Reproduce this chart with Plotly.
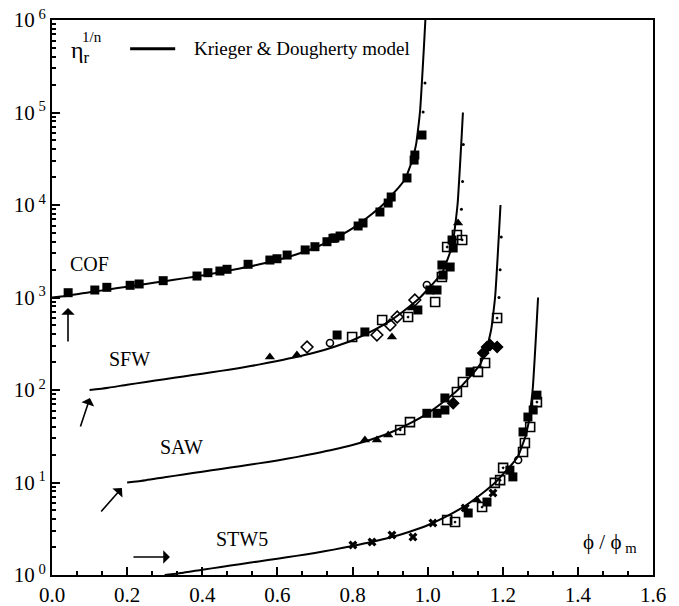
import plotly.graph_objects as go

# Krieger & Dougherty model, reduced form: eta_r^(1/n) against phi/phi_m
MODEL_U = [0.00, 0.05, 0.10, 0.15, 0.20, 0.25, 0.30, 0.35, 0.40, 0.45, 0.50, 0.55,
           0.60, 0.65, 0.70, 0.75, 0.80, 0.85, 0.88, 0.90, 0.92, 0.94, 0.95, 0.96,
           0.966, 0.97, 0.975, 0.98, 0.985, 0.99, 0.994]
MODEL_F = [1.00, 1.06, 1.14, 1.22, 1.31, 1.40, 1.50, 1.61, 1.73, 1.88, 2.06, 2.27,
           2.54, 2.92, 3.45, 4.30, 5.6, 7.9, 10.0, 12.2, 15.0, 19.0, 24.0, 31.0,
           39.0, 47.0, 68.0, 105.0, 220.0, 500.0, 1000.0]

# suspensions, each curve shifted in phi/phi_m and in decades for clarity
SUSPENSIONS = ["COF", "SFW", "SAW", "STW5"]
X_SHIFT = [0.0, 0.1, 0.2, 0.3]
Y_FACTOR = [1000.0, 100.0, 10.0, 1.0]

# measured points (phi/phi_m, eta_r^(1/n)) with data-set id
COF_X = [0.043, 0.114, 0.146, 0.208, 0.232, 0.296, 0.386, 0.415, 0.447, 0.466,
         0.522, 0.580, 0.599, 0.626, 0.674, 0.700, 0.732, 0.748, 0.753, 0.767,
         0.815, 0.828, 0.873, 0.895, 0.903, 0.945, 0.964, 0.966, 0.985, 0.988, 0.993]
COF_Y = [1127, 1205, 1288, 1355, 1400, 1520, 1706, 1854, 1932, 2018,
         2286, 2541, 2624, 2877, 3266, 3540, 4009, 4365, 4400, 4620,
         5930, 6390, 8400, 10500, 12200, 19600, 30600, 34700, 57100, 101000, 209000]
COF_SET = ["a"] * 29 + ["g", "g"]

SFW_X = [0.580, 0.652, 0.679, 0.740, 0.759, 0.799, 0.833, 0.865, 0.879, 0.905,
         0.900, 0.919, 0.948, 0.958, 0.966, 0.974, 0.998, 1.006, 1.020, 1.025,
         1.038, 1.041, 1.038, 1.060, 1.052, 1.068, 1.065, 1.078, 1.092, 1.081,
         1.090, 1.093, 1.095]
SFW_Y = [227, 239, 292, 322, 393, 374, 424, 393, 571, 374,
         505, 615, 615, 770, 940, 733, 1365, 1205, 894, 1205,
         1667, 1750, 2245, 2136, 3515, 3430, 4185, 4740, 4185, 6390,
         9000, 18000, 45000]
SFW_SET = ["d", "d", "c", "e", "a", "b", "a", "c", "b", "d",
           "c", "c", "f", "d", "c", "a", "e", "a", "b", "a",
           "b", "a", "a", "a", "f", "a", "a", "b", "f", "d",
           "g", "g", "g"]

SAW_X = [0.833, 0.865, 0.895, 0.927, 0.953, 0.998, 1.025, 1.046, 1.068, 1.046,
         1.078, 1.094, 1.113, 1.134, 1.153, 1.148, 1.158, 1.166, 1.185, 1.185,
         1.190, 1.193, 1.196]
SAW_Y = [28.8, 28.8, 32.6, 37, 45, 56, 56, 60.8, 72, 82,
         95, 122, 157, 157, 196, 251, 292, 306, 292, 600,
         1000, 2000, 4500]
SAW_SET = ["d", "d", "d", "f", "b", "a", "a", "a", "h", "a",
           "b", "b", "a", "b", "b", "h", "h", "h", "h", "f",
           "g", "g", "g"]

STW5_X = [0.801, 0.852, 0.905, 0.961, 1.014, 1.052, 1.073, 1.100, 1.108, 1.131,
          1.145, 1.158, 1.174, 1.179, 1.193, 1.201, 1.219, 1.227, 1.241, 1.254,
          1.259, 1.254, 1.273, 1.267, 1.281, 1.291, 1.291]
STW5_Y = [2.11, 2.27, 2.71, 2.57, 3.65, 3.93, 3.74, 5.3, 4.68, 6.47,
          5.43, 6.15, 7.7, 9.9, 10.6, 14.4, 13.6, 11.5, 17.5, 21.4,
          26.7, 35.2, 39.8, 51, 60.8, 74, 88]
STW5_SET = ["x", "x", "x", "x", "x", "b", "f", "x", "a", "d",
            "f", "a", "x", "b", "f", "f", "a", "a", "e", "b",
            "b", "a", "b", "a", "a", "f", "a"]

X_TICKS = [0.0, 0.2, 0.4, 0.6, 0.8, 1.0, 1.2, 1.4, 1.6]
Y_TICKS = [1, 10, 100, 1000, 10000, 100000, 1000000]
Y_TICK_TEXT = ["10<sup> 0</sup>", "10<sup> 1</sup>", "10<sup> 2</sup>", "10<sup> 3</sup>",
               "10<sup> 4</sup>", "10<sup> 5</sup>", "10<sup> 6</sup>"]

FONT = "Liberation Serif"
INK = "black"

SET_STYLE = {
    "a": dict(symbol="square", size=9, color=INK, line=dict(width=0)),
    "b": dict(symbol="square-open", size=9, color=INK, line=dict(width=1.6, color=INK)),
    "c": dict(symbol="diamond-open", size=9, color=INK, line=dict(width=1.6, color=INK)),
    "d": dict(symbol="triangle-up", size=9, color=INK, line=dict(width=0)),
    "e": dict(symbol="circle-open", size=7, color=INK, line=dict(width=1.6, color=INK)),
    "f": dict(symbol="square-open-dot", size=9, color=INK, line=dict(width=1.6, color=INK)),
    "g": dict(symbol="circle", size=3, color=INK, line=dict(width=0)),
    "h": dict(symbol="diamond", size=10, color=INK, line=dict(width=0)),
    "x": dict(symbol="x", size=8, color=INK, line=dict(width=0)),
}

fig = go.Figure()

# model curves
for shift, factor in zip(X_SHIFT, Y_FACTOR):
    fig.add_trace(go.Scatter(
        x=[u + shift for u in MODEL_U],
        y=[f * factor for f in MODEL_F],
        mode="lines", line=dict(color=INK, width=2, shape="spline", smoothing=0.7),
        hoverinfo="skip", showlegend=False))

# measured points, one trace per data set
for xs, ys, sets in [(COF_X, COF_Y, COF_SET), (SFW_X, SFW_Y, SFW_SET),
                     (SAW_X, SAW_Y, SAW_SET), (STW5_X, STW5_Y, STW5_SET)]:
    for key, style in SET_STYLE.items():
        px = [x for x, s in zip(xs, sets) if s == key]
        py = [y for y, s in zip(ys, sets) if s == key]
        if px:
            fig.add_trace(go.Scatter(x=px, y=py, mode="markers",
                                     marker=style, showlegend=False,
                                     cliponaxis=True))

axis_common = dict(showline=True, linecolor=INK, linewidth=2, mirror=True,
                   showgrid=False, zeroline=False, ticks="inside",
                   tickcolor=INK, tickwidth=1.5, automargin=False,
                   tickfont=dict(family=FONT, size=21, color=INK))

fig.update_xaxes(range=[0, 1.6], tickmode="array", tickvals=X_TICKS,
                 ticktext=[f"{v:.1f}" for v in X_TICKS], ticklen=8,
                 minor=dict(ticks="inside", ticklen=4, tickcolor=INK,
                            tickmode="linear", tick0=0, dtick=0.2 / 3),
                 **axis_common)
fig.update_yaxes(type="log", range=[0, 6], tickmode="array", tickvals=Y_TICKS,
                 ticktext=Y_TICK_TEXT, ticklen=8,
                 minor=dict(ticks="inside", ticklen=4, tickcolor=INK,
                            tickmode="array",
                            tickvals=[m * 10 ** d for d in range(6) for m in range(2, 10)]),
                 **axis_common)

# suspension labels
label_pos = {"COF": (0.0985, 3.362), "SFW": (0.205, 2.335),
             "SAW": (0.346, 1.384), "STW5": (0.506, 0.389)}
for name in SUSPENSIONS:
    lx, ly = label_pos[name]
    fig.add_annotation(x=lx, y=ly, text=name, showarrow=False,
                       font=dict(family=FONT, size=20, color=INK))

# arrows marking the lowest concentration of each series
arrows = [(0.0426, 2.886, 0, 35), (0.101, 1.914, -10, 30),
          (0.186, 0.941, -22, 25), (0.314, 0.195, -38, 0)]
for hx, hy, ax, ay in arrows:
    fig.add_annotation(x=hx, y=hy, ax=ax, ay=ay, text="", showarrow=True,
                       arrowhead=1, arrowsize=1.4, arrowwidth=1.6, arrowcolor=INK)

# axis titles and legend
fig.add_annotation(x=0.075, y=5.654, text="η<sub>r</sub>", showarrow=False,
                   font=dict(family=FONT, size=24, color=INK))
fig.add_annotation(x=0.106, y=5.816, text="1/n", showarrow=False,
                   font=dict(family=FONT, size=15, color=INK))
fig.add_annotation(x=1.486, y=0.346, text="ϕ / ϕ<sub> m</sub>", showarrow=False,
                   font=dict(family=FONT, size=21, color=INK))
fig.add_shape(type="line", xref="paper", yref="paper", x0=0.130, x1=0.205,
              y0=0.948, y1=0.948, line=dict(color=INK, width=3))
fig.add_annotation(xref="paper", yref="paper", x=0.233, y=0.948,
                   xanchor="left", yanchor="middle",
                   text="Krieger & Dougherty model", showarrow=False,
                   font=dict(family=FONT, size=19, color=INK))

fig.update_layout(width=679, height=606, margin=dict(l=52, r=26, t=20, b=31),
                  plot_bgcolor="white", paper_bgcolor="white",
                  font=dict(family=FONT, color=INK))

fig.write_html("out.html")
